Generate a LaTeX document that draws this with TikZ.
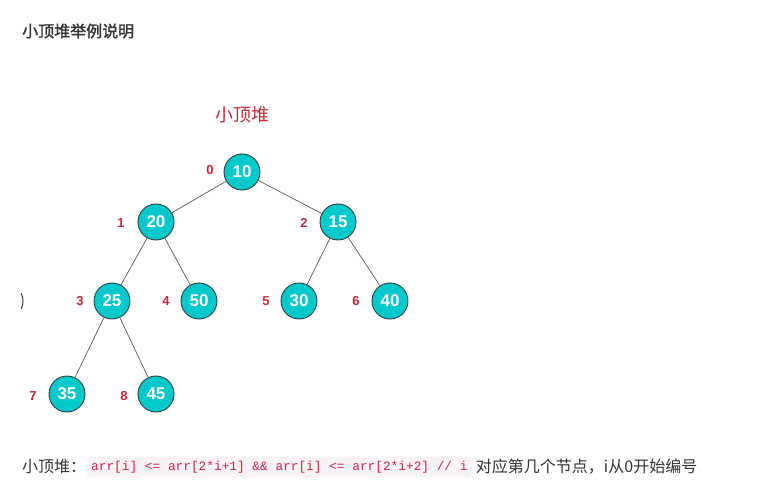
\documentclass[tikz,border=0pt]{standalone}
\usepackage{fontspec}
\setmainfont{Liberation Sans}
\newfontfamily\cjk{Noto Sans CJK SC}
\newfontfamily\codefont{Liberation Mono}
\definecolor{heapfill}{HTML}{00C9CB}
\definecolor{heapline}{HTML}{2F3F40}
\definecolor{idxred}{HTML}{C4283A}
\definecolor{bodytext}{HTML}{333333}
\definecolor{codebg}{HTML}{F9F2F4}
\definecolor{codefg}{HTML}{C7254E}
\begin{document}
\begin{tikzpicture}[x=1pt,y=-1pt,
  heapnode/.style={circle, draw=heapline, line width=0.9pt, fill=heapfill,
    minimum size=36pt, inner sep=0pt, text=white,
    font=\fontsize{17}{17}\selectfont\bfseries},
  idx/.style={text=idxred, font=\fontsize{13}{13}\selectfont\bfseries, inner sep=0pt},
  link/.style={draw=heapline!85, line width=0.7pt}]
\useasboundingbox[fill=white] (0,0) rectangle (773,502);

% heading
\node[anchor=west, text=bodytext, inner sep=0pt] (head) at (22,31)
  {\cjk\fontsize{16}{16}\selectfont\addfontfeature{FakeBold=1.5}小顶堆举例说明};

% caption of the tree
\node[text=idxred, inner sep=0pt] (title) at (242,115)
  {\cjk\fontsize{18}{18}\selectfont 小顶堆};

% heap nodes
\node[heapnode] (n0) at (242,172) {10};
\node[heapnode] (n1) at (156,222) {20};
\node[heapnode] (n2) at (338,222) {15};
\node[heapnode] (n3) at (112,301) {25};
\node[heapnode] (n4) at (199,301) {50};
\node[heapnode] (n5) at (299,301) {30};
\node[heapnode] (n6) at (390,301) {40};
\node[heapnode] (n7) at (67,394) {35};
\node[heapnode] (n8) at (156,394) {45};

% array indices
\node[idx] (i0) at (210,170) {0};
\node[idx] (i1) at (121,223) {1};
\node[idx] (i2) at (304,223) {2};
\node[idx] (i3) at (80,301) {3};
\node[idx] (i4) at (166,301) {4};
\node[idx] (i5) at (266,301) {5};
\node[idx] (i6) at (356,301) {6};
\node[idx] (i7) at (33,396) {7};
\node[idx] (i8) at (124,396) {8};

% parent-child links
\draw[link] (n0) -- (n1);
\draw[link] (n0) -- (n2);
\draw[link] (n1) -- (n3);
\draw[link] (n1) -- (n4);
\draw[link] (n2) -- (n5);
\draw[link] (n2) -- (n6);
\draw[link] (n3) -- (n7);
\draw[link] (n3) -- (n8);

% sliver of a circle at the left edge
\draw[heapline, line width=1pt] (5,301) ++(-25:18) arc[start angle=-25, end angle=25, radius=18];

% explanation line
\node[anchor=west, text=bodytext, inner sep=0pt] (lead) at (22,466)
  {\cjk\fontsize{16}{16}\selectfont 小顶堆：};
\node[anchor=west, fill=codebg, text=codefg, rounded corners=2pt,
  inner xsep=4pt, minimum height=21pt] (code) at (87,467)
  {\codefont\fontsize{12.8}{12.8}\selectfont arr[i] <= arr[2*i+1] \&\& arr[i] <= arr[2*i+2] // i};
\node[anchor=west, text=bodytext, inner sep=0pt] (rest) at ([xshift=4pt]code.east)
  {\cjk\fontsize{16}{16}\selectfont 对应第几个节点，i从0开始编号};
\end{tikzpicture}
\end{document}
